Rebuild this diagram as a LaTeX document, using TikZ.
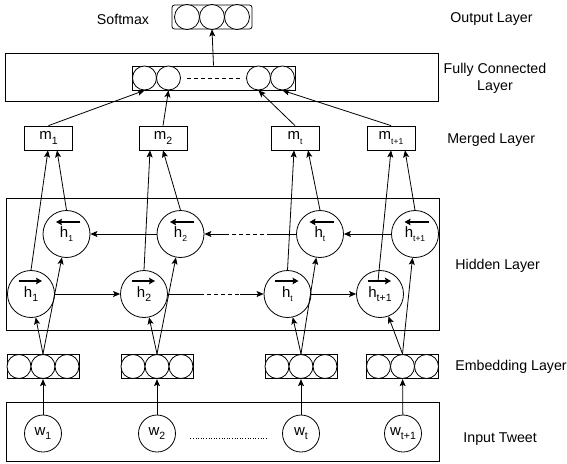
\documentclass[tikz,border=0pt]{standalone}
\usepackage{fontspec}
\setmainfont{Liberation Sans}
\usetikzlibrary{arrows.meta}

\newcommand{\lsub}[1]{\raisebox{-0.3em}{\fontsize{10.5}{11}\selectfont #1}}
\newcommand{\ssub}[1]{\raisebox{-0.3em}{\fontsize{8.5}{9}\selectfont #1}}

\begin{document}
\begin{tikzpicture}[x=1pt,y=1pt,yscale=-1,xscale=1,
  font=\fontsize{14.2}{17}\selectfont,
  cell/.style={circle,draw,fill=white,minimum size=24pt,inner sep=0pt},
  hcell/.style={circle,draw,fill=white,minimum size=47pt,inner sep=0pt,font=\fontsize{15}{17}\selectfont},
  wcell/.style={circle,draw,fill=white,minimum size=37pt,inner sep=0pt,font=\fontsize{15}{17}\selectfont},
  mbox/.style={rectangle,draw,minimum width=48pt,minimum height=24pt,inner sep=0pt,font=\fontsize{15}{17}\selectfont},
  vecbox/.style={rectangle,draw,minimum width=72pt,minimum height=24.5pt,inner sep=0pt},
  layertext/.style={inner sep=0pt,anchor=west},
  arr/.style={line width=0.8pt,-{Stealth[length=7pt,width=6pt,inset=1.5pt]}},
  harr/.style={line width=1.2pt,-{Stealth[length=6pt,width=6.5pt,inset=1pt]}},
  every path/.style={line width=0.8pt}]
\useasboundingbox (0,0) rectangle (567,463);

%Layer frames
\draw (5.5,53.5) rectangle (438,101);
\draw (6.5,198) rectangle (439,330);
\draw (6.5,402.5) rectangle (439,461.5);

%Output layer
\node [draw,rounded corners=2.5pt,minimum width=80pt,minimum height=24pt,inner sep=0pt] (out) at (212,17) {};
\foreach \k/\x in {a/187,b/212,c/237}
  \node [cell,minimum size=25pt] (out\k) at (\x,17) {};

%Fully connected layer
\node [draw,minimum width=163pt,minimum height=24pt,inner sep=0pt] (fc) at (213.5,78) {};
\foreach \k/\x in {1/144.5,2/168.5,3/258.5,4/282.5}
  \node [cell] (c\k) at (\x,78) {};
\draw [dash pattern=on 4pt off 3pt] ([xshift=6.5pt]c2.east) -- ([xshift=-6pt]c3.west);
\draw [arr] (fc.north) -- (out.south);

%Merged layer
\node [mbox] (m1) at (48.5,138) {m\lsub{1}};
\node [mbox] (m2) at (163,138) {m\lsub{2}};
\node [mbox] (mt) at (295,138) {m\ssub{t}};
\node [mbox] (mu) at (391,138) {m\ssub{t+1}};

%Hidden layer, forward
\node [hcell] (f1) at (31,294) {h\lsub{1}};
\node [hcell] (f2) at (144,294) {h\lsub{2}};
\node [hcell] (ft) at (287.5,294) {h\ssub{t}};
\node [hcell] (fu) at (380,294) {h\lsub{t+1}};
%Hidden layer, backward
\node [hcell] (b1) at (66.5,234) {h\ssub{1}};
\node [hcell] (b2) at (180.5,234) {h\ssub{2}};
\node [hcell] (bt) at (320,234) {h\ssub{t}};
\node [hcell] (bu) at (415,234) {h\ssub{t+1}};

\foreach \n in {f1,f2,ft,fu}
  \draw [harr] ([shift={(-12.5,-13)}]\n.center) -- ([shift={(11,-13)}]\n.center);
\foreach \n in {b1,b2,bt,bu}
  \draw [harr] ([shift={(13.5,-12)}]\n.center) -- ([shift={(-10.5,-12)}]\n.center);

%Embedding layer
\foreach \e/\x in {e1/43,e2/157,et/301,eu/402.5}{
  \node [vecbox] (\e) at (\x,366.5) {};
  \foreach \k/\d in {a/-24,b/0,c/24}
    \node [cell] (\e\k) at (\x+\d,366.5) {};
}

%Input tweet
\node [wcell] (w1) at (43,433.5) {w\lsub{1}};
\node [wcell] (w2) at (157,433.5) {w\lsub{2}};
\node [wcell] (wt) at (301,433.5) {w\lsub{t}};
\node [wcell] (wu) at (403,433.5) {w\lsub{t+1}};
\draw [dash pattern=on 1pt off 1.6pt] ([shift={(14.5,4.5)}]w2.east) -- ([shift={(-14.5,4.5)}]wt.west);

%Words to embeddings
\foreach \c in {1,2,t,u}
  \draw [arr] (w\c) -- (e\c);

%Embeddings to hidden states
\foreach \c in {1,2,t,u}{
  \draw [arr] (e\c.north) -- (f\c);
  \draw [arr] (e\c.north) -- (b\c);
}

%Forward chain
\coordinate (fd1) at (200,294);
\coordinate (fd2) at (240,294);
\draw [arr] (f1) -- (f2);
\draw (f2) -- (fd1);
\draw [dash pattern=on 4pt off 3pt] (fd1) -- (fd2);
\draw [arr] (fd2) -- (ft);
\draw [arr] (ft) -- (fu);

%Backward chain
\coordinate (bd1) at (271,234);
\coordinate (bd2) at (228,234);
\draw [arr] (bu) -- (bt);
\draw (bt) -- (bd1);
\draw [dash pattern=on 4pt off 3pt] (bd1) -- (bd2);
\draw [arr] (bd2) -- (b2);
\draw [arr] (b2) -- (b1);

%Hidden states to merged layer
\coordinate (fu-in) at ([shift={(-2,-13)}]fu.center);
\draw [arr] (f1.north) -- ([xshift=-0.5pt]m1.south);
\draw [arr] (b1.north) -- ([xshift=8.5pt]m1.south);
\draw [arr] (f2.north) -- ([xshift=-13pt]m2.south);
\draw [arr] (b2.north) -- (m2.south);
\draw [arr] (ft.north) -- ([xshift=-1pt]mt.south);
\draw [arr] (bt.north) -- ([xshift=13pt]mt.south);
\draw [arr] (fu-in) -- (mu.south);
\draw [arr] (bu.north) -- ([xshift=14pt]mu.south);

%Merged layer to fully connected layer
\draw [arr] (m1.north) -- (c1.south);
\draw [arr] (m2.north) -- (c2.south);
\draw [arr] (mt.north) -- (c3.south);
\draw [arr] (mu.north) -- (c4.south);

% Text Node
\node [inner sep=0pt] (softmax) at (123,19) {Softmax};
% Text Node
\node [layertext] (lout) at (450,19) {Output Layer};
% Text Node
\node [inner sep=0pt,align=center] (lfc) at (495,78) {Fully Connected\\Layer};
% Text Node
\node [layertext] (lmerge) at (447,140) {Merged Layer};
% Text Node
\node [layertext] (lhidden) at (455,266) {Hidden Layer};
% Text Node
\node [layertext] (lembed) at (455,367) {Embedding Layer};
% Text Node
\node [layertext] (linput) at (463,439) {Input Tweet};

\end{tikzpicture}
\end{document}
